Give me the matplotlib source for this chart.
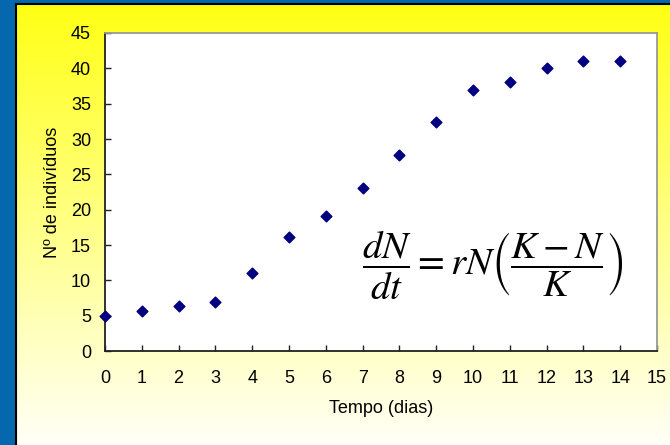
import matplotlib.pyplot as plt
import numpy as np

plt.rcParams['font.family'] = ['Liberation Sans', 'DejaVu Sans']
plt.rcParams['mathtext.fontset'] = 'stix'

# Data
dias = [0, 1, 2, 3, 4, 5, 6, 7, 8, 9, 10, 11, 12, 13, 14]
individuos = [5, 5.6, 6.4, 7, 11.1, 16.1, 19.1, 23, 27.8, 32.4, 37, 38, 40, 41, 41]

W, H = 670, 445
fig = plt.figure(figsize=(W / 100, H / 100), dpi=100, facecolor='#0567AD')

# yellow gradient panel
bg = fig.add_axes([16 / W, 0, 1 - 16 / W, (H - 4) / H])
grad = np.linspace(0.08, 0.97, 256).reshape(-1, 1)
img = np.dstack([np.ones_like(grad), np.ones_like(grad), grad])
bg.imshow(img, aspect='auto', extent=[0, 1, 0, 1], origin='upper')
bg.set_xlim(0, 1)
bg.set_ylim(0, 1)
bg.set_xticks([])
bg.set_yticks([])
for s in ['right', 'bottom']:
    bg.spines[s].set_visible(False)
bg.spines['top'].set_color('black')
bg.spines['left'].set_color('black')
bg.spines['top'].set_linewidth(1.5)
bg.spines['left'].set_linewidth(1.5)

# main plot
ax = fig.add_axes([105 / W, (H - 351) / H, (657 - 105) / W, (351 - 33) / H])
ax.set_facecolor('white')
ax.scatter(dias, individuos, marker='D', s=30, color='#000080', zorder=3, clip_on=False)
ax.set_xlim(0, 15)
ax.set_ylim(0, 45)
ax.set_xticks(range(0, 16))
ax.set_yticks(range(0, 46, 5))
ax.tick_params(direction='in', length=4, width=1, labelsize=13, colors='#222222',
               labelcolor='black', pad=14)
ax.tick_params(axis='y', pad=10)
ax.spines['left'].set_color('#222222')
ax.spines['bottom'].set_color('#222222')
ax.spines['top'].set_color('#999999')
ax.spines['right'].set_color('#999999')
for s in ax.spines.values():
    s.set_linewidth(1.3)

ax.set_xlabel('Tempo (dias)', fontsize=13, labelpad=9)
ax.set_ylabel('Nº de indivíduos', fontsize=13, labelpad=7)

ax.text(0.703, 0.27,
        r'$\dfrac{dN}{dt}=rN\left(\dfrac{K-N}{K}\right)$',
        transform=ax.transAxes, fontsize=28, ha='center', va='center')

fig.savefig('out.png', dpi=100, facecolor=fig.get_facecolor())
